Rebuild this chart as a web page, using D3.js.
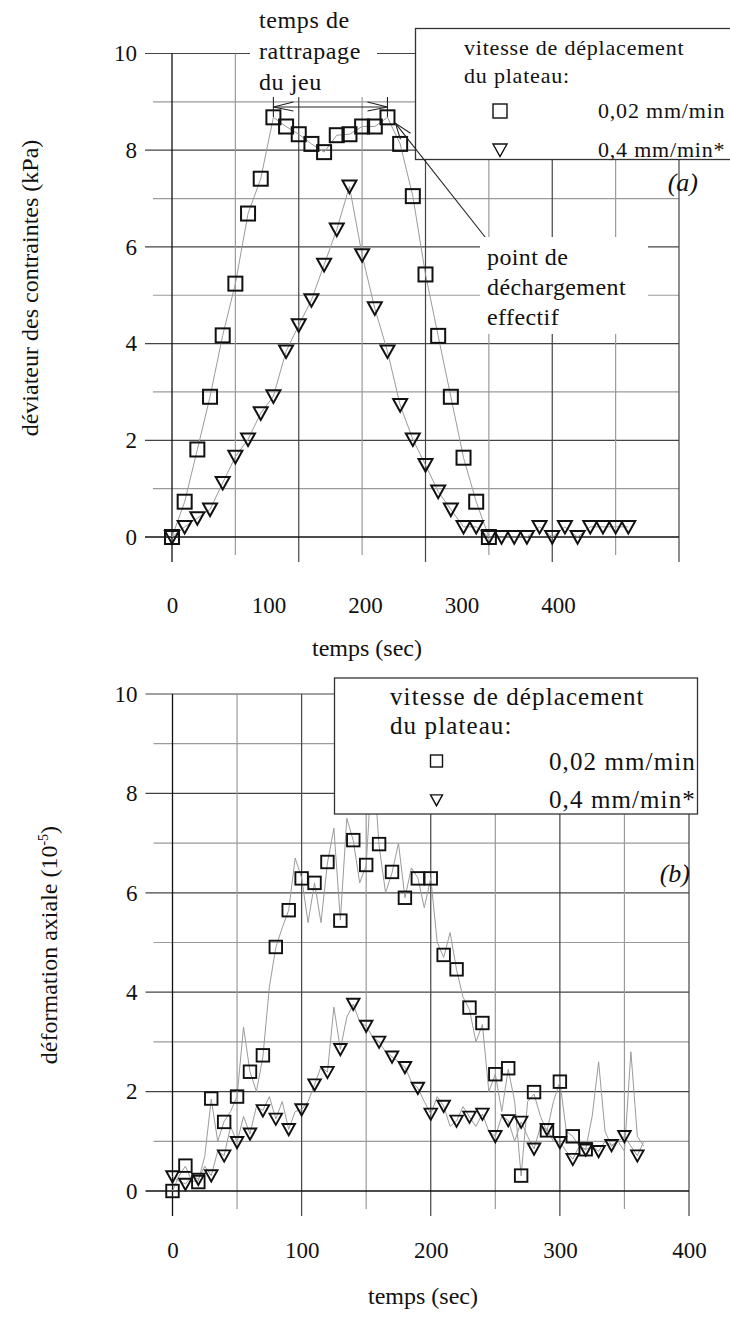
<!DOCTYPE html>
<html><head><meta charset="utf-8">
<script src="https://cdn.jsdelivr.net/npm/d3@7"></script>
<style>
html,body{margin:0;padding:0;background:#fff;}
svg{display:block;}
text{font-family:"Liberation Serif","DejaVu Serif",serif;fill:#111;}
</style></head><body>
<svg id="c" width="730" height="1318"></svg>
<script>
// ---------------- DATA ----------------
// (a) déviateur des contraintes (kPa)
const aSqTimes = [0,10,20,30,40,50,60,70,80,90,100,110,120,130,140,150,160,170,180,190,200,210,220,230,240,250];
const aSqValues = [0,0.73,1.81,2.9,4.17,5.24,6.69,7.41,8.68,8.49,8.33,8.13,7.96,8.31,8.33,8.49,8.49,8.68,8.13,7.05,5.43,4.16,2.9,1.64,0.73,0.0];
const aTriTimes = [0,10,20,30,40,50,60,70,80,90,100,110,120,130,140,150,160,170,180,190,200,210,220,230,240,250,260,270,280,290,300,310,320,330,340,350,360];
const aTriValues = [0,0.21,0.39,0.57,1.12,1.66,2.02,2.56,2.91,3.84,4.38,4.9,5.63,6.36,7.25,5.83,4.73,3.84,2.73,2.02,1.49,0.94,0.57,0.21,0.21,0.0,0.0,0.0,0.0,0.21,0.0,0.21,0.0,0.21,0.21,0.21,0.21];

// (b) déformation axiale (10^-5)
const bSqTimes = [0,10,20,30,40,50,60,70,80,90,100,110,120,130,140,150,160,170,180,190,200,210,220,230,240,250,260,270,280,290,300,310,320];
const bSqValues = [0.0,0.51,0.18,1.86,1.39,1.9,2.4,2.73,4.91,5.65,6.29,6.2,6.62,5.44,7.06,6.56,6.98,6.42,5.9,6.29,6.29,4.75,4.46,3.69,3.38,2.35,2.47,0.31,1.99,1.22,2.2,1.1,0.84];
const bTriTimes = [0,10,20,30,40,50,60,70,80,90,100,110,120,130,140,150,160,170,180,190,200,210,220,230,240,250,260,270,280,290,300,310,320,330,340,350,360];
const bTriValues = [0.29,0.14,0.24,0.31,0.71,0.98,1.15,1.62,1.45,1.24,1.64,2.14,2.39,2.85,3.76,3.32,3.0,2.7,2.49,2.07,1.55,1.71,1.41,1.49,1.55,1.10,1.42,1.39,0.85,1.24,0.98,0.64,0.83,0.80,0.92,1.10,0.71];

// raw (grey) records of (b)
const bRawTimes = [0,5,10,15,20,25,30,35,40,45,50,55,60,65,70,75,80,85,90,95,100,105,110,115,120,125,130,135,140,145,150,155,160,165,170,175,180,185,190,195,200,205,210,215,220,225,230,235,240,245,250,255,260,265,270,275,280,285,290,295,300,305,310,315,320,325,330,335,340,345,350,355,360,365];
const bRawSq = [0.0,0.3,0.5,0.2,0.2,0.7,1.85,1.0,1.4,1.6,1.9,3.3,2.4,2.0,2.7,4.1,4.9,5.3,5.65,6.7,6.3,5.4,6.2,5.4,6.6,7.3,5.45,7.5,7.05,6.2,6.55,8.8,6.95,6.0,6.4,7.0,5.9,6.5,6.3,5.7,6.3,5.0,4.7,5.2,4.45,3.9,3.65,3.0,3.35,2.0,2.35,1.6,2.45,1.8,0.3,1.8,1.95,1.5,1.2,1.8,2.2,1.2,1.1,0.9,0.84,1.5,2.6,1.2,0.9,1.0,0.8,2.8,1.1,0.9];
const bRawTri = [0.29,0.2,0.14,0.3,0.24,0.5,0.31,0.8,0.71,1.3,0.98,1.5,1.15,1.7,1.62,1.9,1.45,1.8,1.24,1.6,1.64,1.8,2.14,2.5,2.39,3.7,2.85,3.5,3.76,3.4,3.32,3.1,3.0,2.8,2.7,2.6,2.49,2.2,2.07,1.8,1.55,1.9,1.71,1.3,1.41,1.7,1.49,1.3,1.55,1.2,1.10,1.5,1.42,1.0,1.39,1.1,0.85,1.3,1.24,1.0,0.98,0.8,0.64,0.9,0.83,0.9,0.80,1.0,0.92,1.0,1.10,0.9,0.71,1.0];

// ticks
const xTickLabels = [0,100,200,300,400];
const xMinorTicks = [50,150,250,350];
const yTickLabels = [0,2,4,6,8,10];
const yMinorTicks = [1,3,5,7,9];
const legendTitle = ["vitesse de déplacement", "du plateau:"];
const legendItems = ["0,02 mm/min", "0,4 mm/min*"];

// ---------------- DRAW ----------------
const svg = d3.select("#c");
const FONT = "Liberation Serif, DejaVu Serif, serif";
const triPath = (s) => `M${-s},${-s*0.85}L${s},${-s*0.85}L0,${s*0.95}Z`;

function drawChart(cfg){
  const x = d3.scaleLinear().domain([0,400]).range([cfg.left, cfg.right]);
  const y = d3.scaleLinear().domain([0,10]).range([cfg.bottom, cfg.top]);
  const xl = d3.scaleLinear().domain([0,400]).range([cfg.left, cfg.labelRight]);
  const g = svg.append("g");

  // grid
  g.selectAll(".hm").data(yMinorTicks).join("line")
    .attr("x1", cfg.left-19).attr("x2", cfg.right)
    .attr("y1", d=>y(d)).attr("y2", d=>y(d)).attr("stroke","#9a9a9a").attr("stroke-width",1.2);
  g.selectAll(".hM").data(yTickLabels.slice(1)).join("line")
    .attr("x1", cfg.left-27).attr("x2", cfg.right)
    .attr("y1", d=>y(d)).attr("y2", d=>y(d)).attr("stroke","#444").attr("stroke-width",1.2);
  g.selectAll(".vm").data(xMinorTicks).join("line")
    .attr("x1", d=>x(d)).attr("x2", d=>x(d))
    .attr("y1", cfg.top).attr("y2", cfg.bottom+18).attr("stroke","#9a9a9a").attr("stroke-width",1.2);
  g.selectAll(".vM").data(xTickLabels.slice(1)).join("line")
    .attr("x1", d=>x(d)).attr("x2", d=>x(d))
    .attr("y1", cfg.top).attr("y2", cfg.bottom+25).attr("stroke","#444").attr("stroke-width",1.2);
  // axes
  g.append("line").attr("x1",x(0)).attr("x2",x(0)).attr("y1",cfg.top).attr("y2",cfg.bottom+25).attr("stroke","#111").attr("stroke-width",1.3);
  g.append("line").attr("x1",cfg.left-27).attr("x2",cfg.right).attr("y1",y(0)).attr("y2",y(0)).attr("stroke","#111").attr("stroke-width",1.3);

  // tick labels via axes
  const ya = g.append("g").attr("transform",`translate(${cfg.left-35},0)`)
    .call(d3.axisLeft(y).tickValues(yTickLabels).tickSize(0).tickPadding(0).tickFormat(d3.format("d")));
  ya.select(".domain").remove();
  ya.attr("font-family",FONT).attr("font-size",23);
  ya.selectAll("text").attr("font-size",23).attr("fill","#111");
  const xa = g.append("g").attr("transform",`translate(0,${cfg.bottom+cfg.xLabelGap})`)
    .call(d3.axisBottom(xl).tickValues(xTickLabels).tickSize(0).tickPadding(0).tickFormat(d3.format("d")));
  xa.select(".domain").remove();
  xa.attr("font-family",FONT).attr("font-size",23);
  xa.selectAll("text").attr("font-size",23).attr("fill","#111");

  // grey raw curves
  const line = d3.line().x(d=>x(d[0])).y(d=>y(d[1]));
  cfg.raw.forEach(r => {
    g.append("path").datum(d3.zip(r[0], r[1])).attr("d", line)
      .attr("fill","none").attr("stroke","#9b9b9b").attr("stroke-width",1);
  });

  // markers
  const ms = cfg.markerSize;
  g.selectAll(".sq").data(d3.zip(cfg.sq[0], cfg.sq[1])).join("rect")
    .attr("x", d=>x(d[0])-ms/2).attr("y", d=>y(d[1])-ms/2).attr("width",ms).attr("height",ms)
    .attr("fill","none").attr("stroke","#111").attr("stroke-width",cfg.markerStroke);
  g.selectAll(".tr").data(d3.zip(cfg.tri[0], cfg.tri[1])).join("path")
    .attr("transform", d=>`translate(${x(d[0])},${y(d[1])})`).attr("d", triPath(ms/2))
    .attr("fill","none").attr("stroke","#111").attr("stroke-width",cfg.markerStroke).attr("stroke-linejoin","miter");

  // axis titles
  const yt = g.append("text").attr("transform",`translate(${cfg.yTitleX},${cfg.yTitleY}) rotate(-90)`)
    .attr("text-anchor","middle").attr("font-size",24);
  cfg.yTitle(yt);
  g.append("text").attr("x",cfg.xTitleX).attr("y",cfg.xTitleY).attr("text-anchor","middle")
    .attr("font-size",24).text("temps (sec)");

  // panel letter
  g.append("text").attr("x",cfg.letterX).attr("y",cfg.letterY).attr("font-size",26)
    .attr("font-style","italic").attr("text-anchor","end").text(cfg.letter);

  // legend
  const L = cfg.legend;
  g.append("rect").attr("x",L.x).attr("y",L.y).attr("width",L.w).attr("height",L.h)
    .attr("fill","#fff").attr("stroke","#333").attr("stroke-width",1.3);
  legendTitle.forEach((t,i)=>{
    g.append("text").attr("x",L.textX).attr("y",L.base[i]).attr("font-size",L.fs)
      .attr("letter-spacing",L.ls).text(t);
  });
  legendItems.forEach((t,i)=>{
    g.append("text").attr("x",L.itemX).attr("y",L.base[i+2]).attr("font-size",L.fs)
      .attr("letter-spacing",L.ls).text(t);
  });
  const s = L.sym;
  g.append("rect").attr("x",L.symX-s/2).attr("y",L.symY[0]-s/2).attr("width",s).attr("height",s)
    .attr("fill","none").attr("stroke","#111").attr("stroke-width",1.4);
  g.append("path").attr("transform",`translate(${L.symX},${L.symY[1]})`).attr("d",triPath(s/2))
    .attr("fill","none").attr("stroke","#111").attr("stroke-width",1.4);
  return {x,y,g};
}

// ---- chart (a)
const A = drawChart({
  left:172, right:679, top:53.5, bottom:537, labelRight:558, xLabelGap:60,
  sq:[aSqTimes,aSqValues], tri:[aTriTimes,aTriValues],
  raw:[[aSqTimes,aSqValues],[aTriTimes,aTriValues]],
  markerSize:14, markerStroke:2,
  yTitleX:38, yTitleY:288,
  yTitle:(t)=>t.text("déviateur des contraintes  (kPa)"),
  xTitleX:367, xTitleY:656,
  letter:"(a)", letterX:698, letterY:191,
  legend:{x:415.5,y:28.5,w:320,h:131,textX:464,itemX:598,base:[55,83,118,157],fs:22,ls:0.8,sym:14,symX:500,symY:[111,150]}
});

// annotation (a): temps de rattrapage du jeu
{
  const g = A.g, x=A.x, y=A.y;
  g.append("rect").attr("x",250).attr("y",0).attr("width",127).attr("height",97).attr("fill","#fff");
  ["temps de","rattrapage","du jeu"].forEach((t,i)=>{
    g.append("text").attr("x",259).attr("y",28+31*i).attr("font-size",24).attr("letter-spacing",0.6).text(t);
  });
  const ya = 107, xa0 = x(aSqTimes[8]), xa1 = x(aSqTimes[17]);
  const arr = g.append("g").attr("stroke","#222").attr("stroke-width",1.1).attr("fill","none");
  arr.append("line").attr("x1",xa0).attr("x2",xa1).attr("y1",ya).attr("y2",ya);
  arr.append("line").attr("x1",xa0).attr("x2",xa0).attr("y1",ya-10).attr("y2",ya+10);
  arr.append("line").attr("x1",xa1).attr("x2",xa1).attr("y1",ya-10).attr("y2",ya+10);
  arr.append("path").attr("d",`M${xa0+20},${ya-5}L${xa0},${ya}L${xa0+20},${ya+4}`);
  arr.append("path").attr("d",`M${xa1-20},${ya-5}L${xa1},${ya}L${xa1-20},${ya+4}`);

  // point de déchargement effectif
  g.append("rect").attr("x",480).attr("y",237).attr("width",168).attr("height",97).attr("fill","#fff");
  ["point de","déchargement","effectif"].forEach((t,i)=>{
    g.append("text").attr("x",487).attr("y",265+30*i).attr("font-size",24).attr("letter-spacing",0.4).text(t);
  });
  const tx = x(aSqTimes[17])+8, ty = y(aSqValues[17])+6;
  arr.append("line").attr("x1",tx).attr("y1",ty).attr("x2",489).attr("y2",242);
  arr.append("path").attr("d",`M${tx+5},${ty+16}L${tx},${ty}L${tx+15},${ty+10}`);
}

// ---- chart (b)
drawChart({
  left:172.5, right:689, top:694, bottom:1191, labelRight:689, xLabelGap:51,
  sq:[bSqTimes,bSqValues], tri:[bTriTimes,bTriValues],
  raw:[[bRawTimes,bRawSq],[bRawTimes,bRawTri]],
  markerSize:12.5, markerStroke:1.9,
  yTitleX:57, yTitleY:945,
  yTitle:(t)=>{ t.append("tspan").text("déformation axiale  (10");
                t.append("tspan").attr("font-size",14).attr("dy",-9).text("-5");
                t.append("tspan").attr("dy",9).text(")"); },
  xTitleX:423, xTitleY:1304,
  letter:"(b)", letterX:690, letterY:882,
  legend:{x:334.5,y:678,w:363,h:136,textX:390,itemX:549,base:[705,734,770,808],fs:25,ls:1.1,sym:12,symX:436.5,symY:[761,800]}
});
</script>
</body></html>
